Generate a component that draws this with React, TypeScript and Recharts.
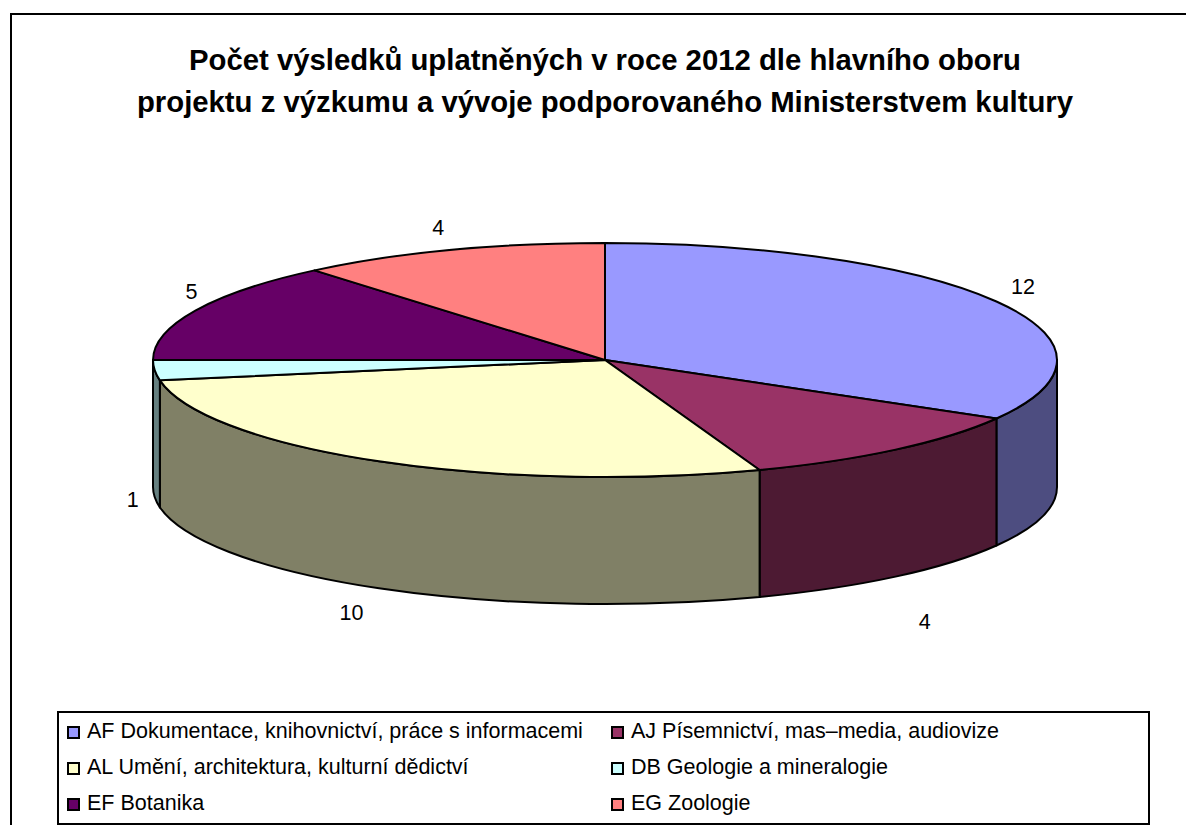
import React from "react";
import { PieChart, Pie, Legend } from "recharts";

const categories = [
  "AF Dokumentace, knihovnictví, práce s informacemi",
  "AJ Písemnictví, mas–media, audiovize",
  "AL Umění, architektura, kulturní dědictví",
  "DB Geologie a mineralogie",
  "EF Botanika",
  "EG Zoologie",
];
const counts = [12, 4, 10, 1, 5, 4];
const topColors = ["#9999FF", "#993366", "#FFFFCC", "#CCFFFF", "#660066", "#FF8080"];
const wallColors = ["#4D4D80", "#4D1A33", "#808066", "#668080", "#330033", "#804040"];
const titleLines = [
  "Počet výsledků uplatněných v roce 2012 dle hlavního oboru",
  "projektu z výzkumu a vývoje podporovaného Ministerstvem kultury",
];

const FONT = '"Liberation Sans", Arial, sans-serif';
const SQUASH = 117 / 452; // flat ellipse of the pie top
const DEPTH = 127; // height of the side wall
const RAD = Math.PI / 180;

// small label shifts, Excel does not place them on a clean ellipse
const labelNudge = [
  [-2, 2],
  [8, 20],
  [-11, -4],
  [11, 0],
  [26, -5],
  [-1, 9],
];

const chartData = categories.map((name, i) => ({
  name,
  value: counts[i],
  fill: topColors[i],
  wall: wallColors[i],
}));

const Slice3D = (props: any) => {
  const { cx, cy, outerRadius: rx, startAngle, endAngle, fill, payload } = props;
  const ry = rx * SQUASH;
  const px = (a: number) => cx + rx * Math.cos(a * RAD);
  const py = (a: number) => cy - ry * Math.sin(a * RAD);
  const large = Math.abs(startAngle - endAngle) > 180 ? 1 : 0;
  const top = `M${cx},${cy} L${px(startAngle)},${py(startAngle)} A${rx},${ry} 0 ${large} 1 ${px(endAngle)},${py(endAngle)} Z`;

  // only the front half of the rim gets a wall
  const a1 = Math.min(startAngle, 0);
  const a2 = Math.max(endAngle, -180);
  const wall =
    a1 > a2
      ? `M${px(a1)},${py(a1)} A${rx},${ry} 0 0 1 ${px(a2)},${py(a2)} L${px(a2)},${py(a2) + DEPTH} A${rx},${ry} 0 0 0 ${px(a1)},${py(a1) + DEPTH} Z`
      : null;

  return (
    <g>
      {wall && <path d={wall} fill={payload.wall ?? props.wall} stroke="#000" strokeWidth={2} strokeLinejoin="round" />}
      <path d={top} fill={fill} stroke="#000" strokeWidth={2} strokeLinejoin="round" />
    </g>
  );
};

const renderLabel = (props: any) => {
  const { cx, cy, midAngle, value, index } = props;
  const s = Math.sin(midAngle * RAD);
  const x = cx + 485 * Math.cos(midAngle * RAD) + labelNudge[index][0];
  const y = cy - 150 * s + (s < 0 ? DEPTH : 0) + labelNudge[index][1];
  return (
    <text x={x} y={y} textAnchor="middle" dominantBaseline="central" fontFamily={FONT} fontSize={21.5} fill="#000">
      {value}
    </text>
  );
};

const renderLegend = () => (
  <div
    style={{
      boxSizing: "border-box",
      width: 1093,
      height: 114,
      border: "2px solid #000",
      background: "#fff",
      fontFamily: FONT,
      fontSize: 21.5,
      position: "relative",
    }}
  >
    {categories.map((name, i) => (
      <div
        key={name}
        style={{
          position: "absolute",
          left: i % 2 === 0 ? 8 : 552,
          top: 6 + Math.floor(i / 2) * 36,
          height: 24,
          lineHeight: "24px",
          whiteSpace: "nowrap",
          color: "#000",
        }}
      >
        <span
          style={{
            display: "inline-block",
            boxSizing: "border-box",
            width: 13,
            height: 13,
            border: "2px solid #000",
            background: topColors[i],
            marginRight: 7,
            verticalAlign: -1,
          }}
        />
        {name}
      </div>
    ))}
  </div>
);

export default function App() {
  return (
    <div style={{ position: "absolute", left: 0, top: 0, width: 1186, height: 825, background: "#fff" }}>
      <PieChart width={1186} height={825} margin={{ top: 0, right: 0, bottom: 0, left: 0 }}>
        <path d="M1186,14 L11,14 L11,825" fill="none" stroke="#000" strokeWidth={2} />
        {titleLines.map((line, i) => (
          <text
            key={line}
            x={605}
            y={70 + i * 42}
            textAnchor="middle"
            fontFamily={FONT}
            fontSize={29.3}
            fontWeight="bold"
            fill="#000"
          >
            {line}
          </text>
        ))}
        <Pie
          data={chartData}
          dataKey="value"
          nameKey="name"
          cx={605}
          cy={360}
          innerRadius={0}
          outerRadius={452}
          startAngle={90}
          endAngle={-270}
          shape={Slice3D}
          label={renderLabel}
          labelLine={false}
          isAnimationActive={false}
        />
        <Legend
          content={renderLegend}
          wrapperStyle={{ position: "absolute", left: 57, top: 711, width: 1093, height: 114, bottom: "auto" }}
        />
      </PieChart>
    </div>
  );
}
